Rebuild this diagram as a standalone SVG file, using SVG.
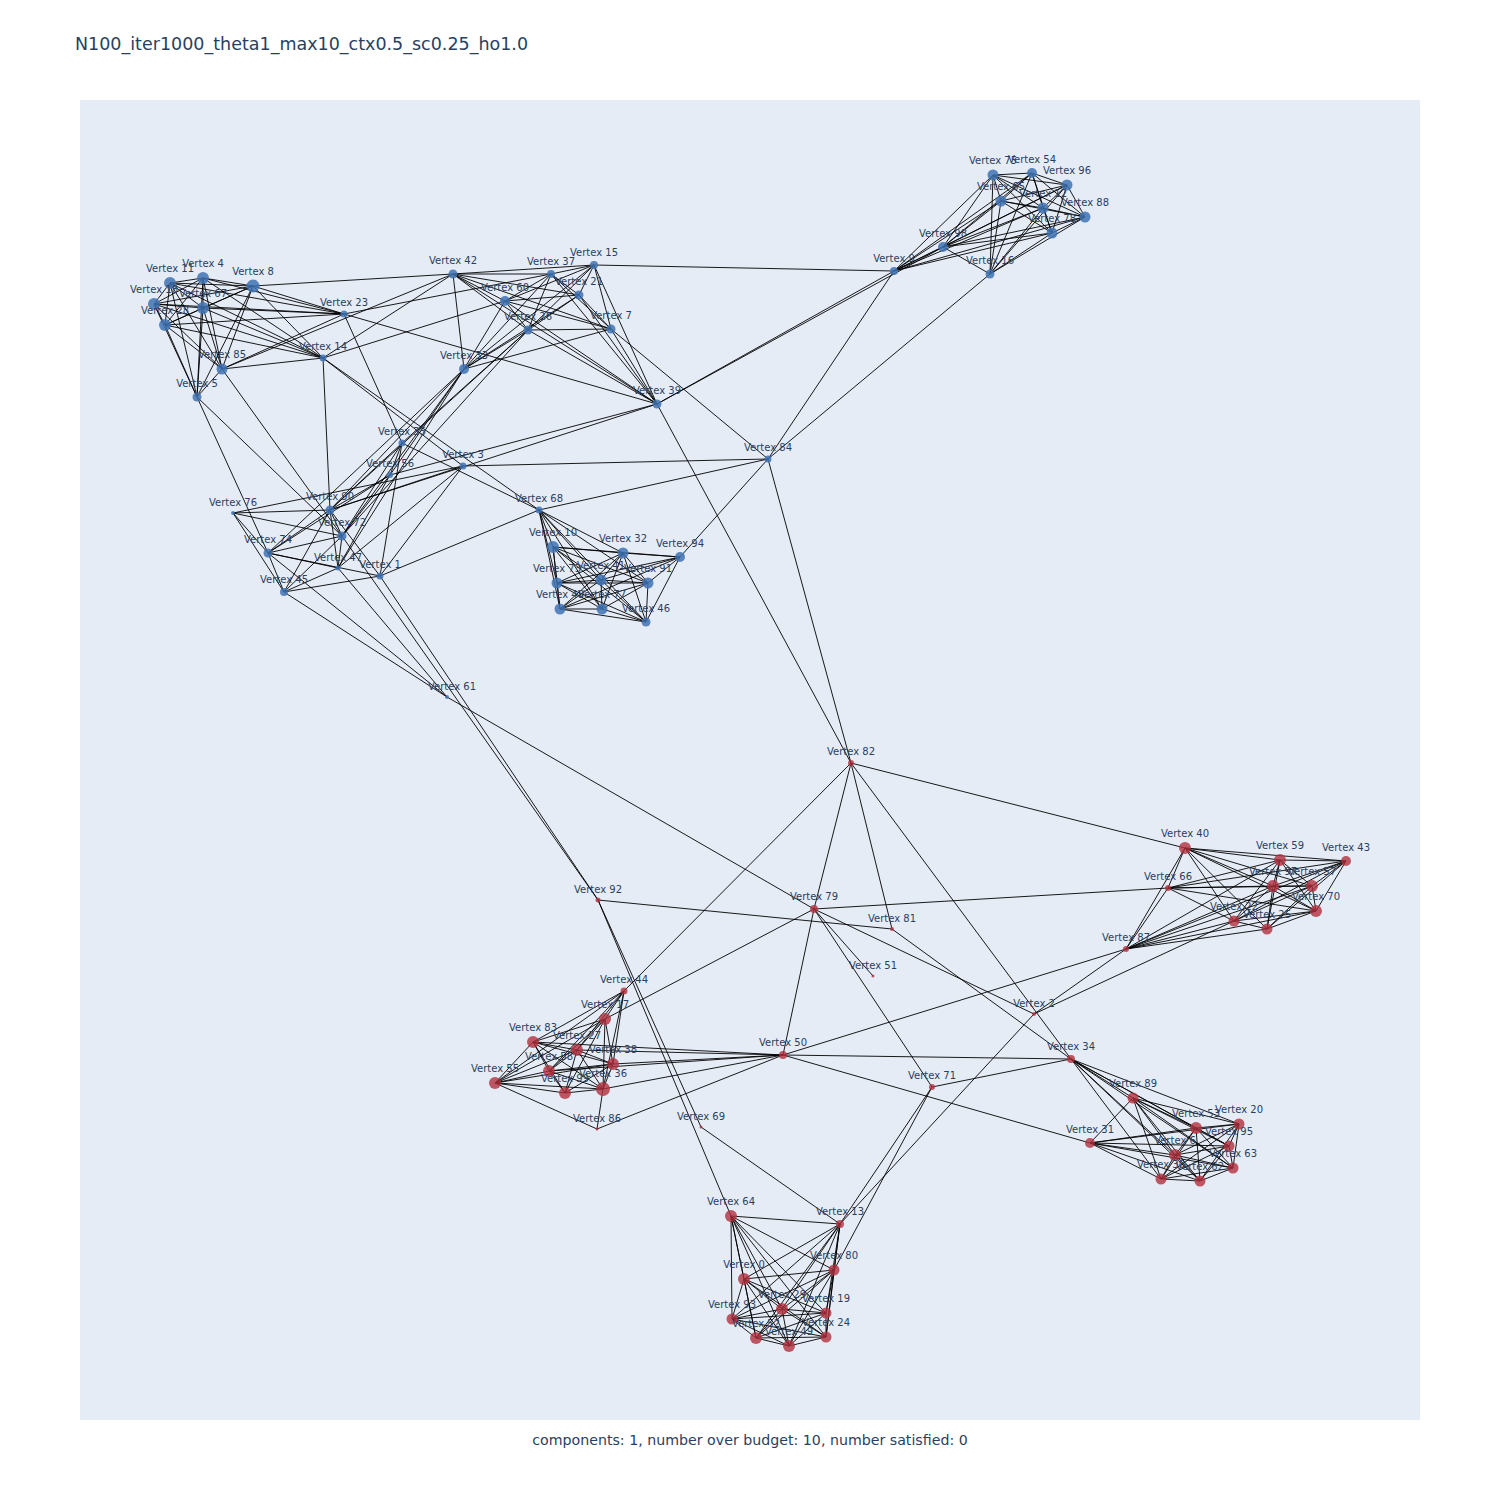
<svg xmlns="http://www.w3.org/2000/svg" width="1500" height="1500" viewBox="0 0 1500 1500">
<style>
.e{fill:none;stroke:#000;stroke-width:0.9}
.b{fill:#3f73b3;fill-opacity:0.85}
.r{fill:#b2313e;fill-opacity:0.8}
text{font-family:"DejaVu Sans","Open Sans",sans-serif;fill:#2a3f5f}
.l{font-size:10px;text-anchor:middle}
</style>
<rect x="0" y="0" width="1500" height="1500" fill="#fff"/>
<rect x="80" y="100" width="1340" height="1320" fill="#E5ECF6"/>
<text x="75" y="50" font-size="17.5">N100_iter1000_theta1_max10_ctx0.5_sc0.25_ho1.0</text>
<text x="750" y="1445" font-size="14.2" text-anchor="middle">components: 1, number over budget: 10, number satisfied: 0</text>
<g id="connectors">
<path class="e" d="M170 283L203 278M170 283L253 286M170 283L154 304M170 283L203 308M170 283L165 325M170 283L222 369M170 283L197 397M203 278L253 286M203 278L154 304M203 278L203 308M203 278L165 325M203 278L222 369M203 278L197 397M253 286L154 304M253 286L203 308M253 286L165 325M253 286L222 369M253 286L197 397M154 304L203 308M154 304L165 325M154 304L222 369M154 304L197 397M203 308L165 325M203 308L222 369M203 308L197 397M165 325L222 369M165 325L197 397M222 369L197 397M344 314L170 283M344 314L203 278M344 314L253 286M344 314L154 304M344 314L203 308M344 314L165 325M344 314L222 369M323 358L170 283M323 358L203 278M323 358L253 286M323 358L154 304M323 358L203 308M323 358L165 325M323 358L222 369M253 286L453 274M222 369L453 274M323 358L453 274M323 358L505 301M323 358L330 510M323 358L539 510M323 358L463 466M344 314L551 274M344 314L402 443M344 314L657 404M197 397L268 553M197 397L342 536M222 369L342 536"/>
<path class="e" d="M453 274L551 274M453 274L594 265M453 274L505 301M453 274L579 295M453 274L528 330M453 274L611 329M453 274L464 369M551 274L594 265M551 274L505 301M551 274L579 295M551 274L528 330M551 274L611 329M551 274L464 369M594 265L505 301M594 265L579 295M594 265L528 330M594 265L611 329M594 265L464 369M505 301L579 295M505 301L528 330M505 301L611 329M505 301L464 369M579 295L528 330M579 295L611 329M579 295L464 369M528 330L611 329M528 330L464 369M611 329L464 369M657 404L453 274M657 404L551 274M657 404L594 265M657 404L505 301M657 404L579 295M657 404L528 330M657 404L611 329M594 265L894 271M657 404L894 271M657 404L943 247M657 404L851 763M657 404L390 475M657 404L330 510M611 329L768 459M464 369L390 475M464 369L330 510M464 369L342 536M464 369L338 568M464 369L268 553M528 330L330 510M528 330L402 443M528 330L342 536"/>
<path class="e" d="M993 175L1032 173M993 175L1067 185M993 175L1001 201M993 175L1043 208M993 175L1085 217M993 175L1052 233M1032 173L1067 185M1032 173L1001 201M1032 173L1043 208M1032 173L1085 217M1032 173L1052 233M1067 185L1001 201M1067 185L1043 208M1067 185L1085 217M1067 185L1052 233M1001 201L1043 208M1001 201L1085 217M1001 201L1052 233M1043 208L1085 217M1043 208L1052 233M1085 217L1052 233M943 247L993 175M943 247L1032 173M943 247L1067 185M943 247L1001 201M943 247L1043 208M943 247L1085 217M943 247L1052 233M943 247L894 271M943 247L990 274M894 271L993 175M894 271L1032 173M894 271L1001 201M894 271L1043 208M894 271L1052 233M894 271L1085 217M894 271L1067 185M990 274L993 175M990 274L1001 201M990 274L1032 173M990 274L1067 185M990 274L1043 208M990 274L1052 233M990 274L1085 217M894 271L768 459M990 274L768 459"/>
<path class="e" d="M233 513L330 510M233 513L342 536M233 513L268 553M233 513L284 592M233 513L463 466M330 510L342 536M330 510L268 553M330 510L338 568M330 510L284 592M330 510L390 475M330 510L402 443M330 510L380 576M330 510L463 466M342 536L268 553M342 536L338 568M342 536L284 592M342 536L390 475M342 536L402 443M268 553L338 568M268 553L380 576M268 553L284 592M268 553L390 475M338 568L284 592M338 568L463 466M338 568L390 475M284 592L380 576M380 576L463 466M380 576L402 443M380 576L539 510M402 443L390 475M402 443L539 510M284 592L447 697M268 553L447 697M338 568L447 697M463 466L768 459M380 576L598 900M342 536L598 900"/>
<path class="e" d="M553 547L623 553M553 547L557 583M553 547L601 580M553 547L648 583M553 547L560 609M553 547L602 609M553 547L646 622M623 553L557 583M623 553L601 580M623 553L648 583M623 553L560 609M623 553L602 609M623 553L646 622M557 583L601 580M557 583L648 583M557 583L560 609M557 583L602 609M557 583L646 622M601 580L648 583M601 580L560 609M601 580L602 609M601 580L646 622M648 583L560 609M648 583L602 609M648 583L646 622M560 609L602 609M560 609L646 622M602 609L646 622M680 557L623 553M680 557L648 583M680 557L646 622M680 557L601 580M680 557L557 583M680 557L553 547M680 557L560 609M539 510L553 547M539 510L557 583M539 510L560 609M539 510L623 553M539 510L601 580M539 510L602 609M539 510L648 583M539 510L646 622M539 510L768 459M680 557L768 459"/>
<path class="e" d="M1185 848L1280 860M1185 848L1346 861M1185 848L1273 886M1185 848L1312 886M1185 848L1316 911M1185 848L1234 921M1185 848L1267 929M1280 860L1346 861M1280 860L1273 886M1280 860L1312 886M1280 860L1316 911M1280 860L1234 921M1280 860L1267 929M1346 861L1273 886M1346 861L1312 886M1346 861L1316 911M1346 861L1234 921M1346 861L1267 929M1273 886L1312 886M1273 886L1316 911M1273 886L1234 921M1273 886L1267 929M1312 886L1316 911M1312 886L1234 921M1312 886L1267 929M1316 911L1234 921M1316 911L1267 929M1234 921L1267 929M1168 888L1185 848M1168 888L1280 860M1168 888L1273 886M1168 888L1312 886M1168 888L1346 861M1168 888L1316 911M1168 888L1234 921M1168 888L1126 949M1126 949L1185 848M1126 949L1280 860M1126 949L1273 886M1126 949L1312 886M1126 949L1316 911M1126 949L1234 921M1126 949L1267 929M1126 949L1346 861M851 763L1185 848M814 909L1168 888M783 1055L1126 949M1034 1014L1126 949M1034 1014L1234 921"/>
<path class="e" d="M605 1019L533 1042M605 1019L577 1050M605 1019L613 1064M605 1019L549 1071M605 1019L495 1083M605 1019L603 1089M605 1019L565 1093M533 1042L577 1050M533 1042L613 1064M533 1042L549 1071M533 1042L495 1083M533 1042L603 1089M533 1042L565 1093M577 1050L613 1064M577 1050L549 1071M577 1050L495 1083M577 1050L603 1089M577 1050L565 1093M613 1064L549 1071M613 1064L495 1083M613 1064L603 1089M613 1064L565 1093M549 1071L495 1083M549 1071L603 1089M549 1071L565 1093M495 1083L603 1089M495 1083L565 1093M603 1089L565 1093M624 991L605 1019M624 991L533 1042M624 991L577 1050M624 991L613 1064M624 991L603 1089M624 991L549 1071M624 991L495 1083M597 1129L495 1083M597 1129L603 1089M597 1129L783 1055M624 991L851 763M605 1019L814 909M783 1055L613 1064M783 1055L603 1089M783 1055L577 1050M783 1055L533 1042M783 1055L549 1071"/>
<path class="e" d="M1133 1098L1239 1124M1133 1098L1196 1128M1133 1098L1090 1143M1133 1098L1229 1146M1133 1098L1175 1155M1133 1098L1233 1168M1133 1098L1161 1179M1133 1098L1200 1181M1239 1124L1196 1128M1239 1124L1090 1143M1239 1124L1229 1146M1239 1124L1175 1155M1239 1124L1233 1168M1239 1124L1161 1179M1239 1124L1200 1181M1196 1128L1090 1143M1196 1128L1229 1146M1196 1128L1175 1155M1196 1128L1233 1168M1196 1128L1161 1179M1196 1128L1200 1181M1090 1143L1229 1146M1090 1143L1175 1155M1090 1143L1233 1168M1090 1143L1161 1179M1090 1143L1200 1181M1229 1146L1175 1155M1229 1146L1233 1168M1229 1146L1161 1179M1229 1146L1200 1181M1175 1155L1233 1168M1175 1155L1161 1179M1175 1155L1200 1181M1233 1168L1161 1179M1233 1168L1200 1181M1161 1179L1200 1181M1071 1059L1133 1098M1071 1059L1239 1124M1071 1059L1196 1128M1071 1059L1229 1146M1071 1059L1175 1155M1071 1059L1233 1168M1071 1059L1161 1179M1071 1059L1200 1181M783 1055L1090 1143"/>
<path class="e" d="M731 1216L840 1224M731 1216L834 1270M731 1216L744 1279M731 1216L782 1309M731 1216L826 1313M731 1216L732 1319M731 1216L826 1337M731 1216L756 1338M731 1216L789 1346M840 1224L834 1270M840 1224L744 1279M840 1224L782 1309M840 1224L826 1313M840 1224L732 1319M840 1224L826 1337M840 1224L756 1338M840 1224L789 1346M834 1270L744 1279M834 1270L782 1309M834 1270L826 1313M834 1270L732 1319M834 1270L826 1337M834 1270L756 1338M834 1270L789 1346M744 1279L782 1309M744 1279L826 1313M744 1279L732 1319M744 1279L826 1337M744 1279L756 1338M744 1279L789 1346M782 1309L826 1313M782 1309L732 1319M782 1309L826 1337M782 1309L756 1338M782 1309L789 1346M826 1313L732 1319M826 1313L826 1337M826 1313L756 1338M826 1313L789 1346M732 1319L826 1337M732 1319L756 1338M732 1319L789 1346M826 1337L756 1338M826 1337L789 1346M756 1338L789 1346M598 900L731 1216M598 900L701 1127M701 1127L840 1224M932 1087L840 1224M932 1087L834 1270M1034 1014L840 1224"/>
<path class="e" d="M851 763L768 459M851 763L814 909M851 763L892 929M851 763L1071 1059M814 909L447 697M814 909L783 1055M814 909L932 1087M814 909L873 976M814 909L1034 1014M598 900L892 929M892 929L1071 1059M783 1055L1071 1059M932 1087L1071 1059"/>
</g>
<g id="nodes">
<g id="v11"><circle class="b" cx="170" cy="283" r="6"/><text class="l" x="170" y="272">Vertex 11</text></g>
<g id="v4"><circle class="b" cx="203" cy="278" r="6"/><text class="l" x="203" y="267">Vertex 4</text></g>
<g id="v8"><circle class="b" cx="253" cy="286" r="6.5"/><text class="l" x="253" y="275">Vertex 8</text></g>
<g id="v18"><circle class="b" cx="154" cy="304" r="6"/><text class="l" x="154" y="293">Vertex 18</text></g>
<g id="v67"><circle class="b" cx="203" cy="308" r="6"/><text class="l" x="203" y="297">Vertex 67</text></g>
<g id="v28"><circle class="b" cx="165" cy="325" r="6"/><text class="l" x="165" y="314">Vertex 28</text></g>
<g id="v85"><circle class="b" cx="222" cy="369" r="5.5"/><text class="l" x="222" y="358">Vertex 85</text></g>
<g id="v5"><circle class="b" cx="197" cy="397" r="4.5"/><text class="l" x="197" y="387">Vertex 5</text></g>
<g id="v23"><circle class="b" cx="344" cy="314" r="3.5"/><text class="l" x="344" y="306">Vertex 23</text></g>
<g id="v14"><circle class="b" cx="323" cy="358" r="3.5"/><text class="l" x="323" y="350">Vertex 14</text></g>
<g id="v42"><circle class="b" cx="453" cy="274" r="4.5"/><text class="l" x="453" y="264">Vertex 42</text></g>
<g id="v37"><circle class="b" cx="551" cy="274" r="4"/><text class="l" x="551" y="265">Vertex 37</text></g>
<g id="v15"><circle class="b" cx="594" cy="265" r="4"/><text class="l" x="594" y="256">Vertex 15</text></g>
<g id="v60"><circle class="b" cx="505" cy="301" r="5"/><text class="l" x="505" y="291">Vertex 60</text></g>
<g id="v21"><circle class="b" cx="579" cy="295" r="4.5"/><text class="l" x="579" y="285">Vertex 21</text></g>
<g id="v26"><circle class="b" cx="528" cy="330" r="4.5"/><text class="l" x="528" y="320">Vertex 26</text></g>
<g id="v7"><circle class="b" cx="611" cy="329" r="4.5"/><text class="l" x="611" y="319">Vertex 7</text></g>
<g id="v33"><circle class="b" cx="464" cy="369" r="5"/><text class="l" x="464" y="359">Vertex 33</text></g>
<g id="v39"><circle class="b" cx="657" cy="404" r="4.5"/><text class="l" x="657" y="394">Vertex 39</text></g>
<g id="v75"><circle class="b" cx="993" cy="175" r="5.5"/><text class="l" x="993" y="164">Vertex 75</text></g>
<g id="v54"><circle class="b" cx="1032" cy="173" r="5"/><text class="l" x="1032" y="163">Vertex 54</text></g>
<g id="v96"><circle class="b" cx="1067" cy="185" r="5.5"/><text class="l" x="1067" y="174">Vertex 96</text></g>
<g id="v65"><circle class="b" cx="1001" cy="201" r="5.5"/><text class="l" x="1001" y="190">Vertex 65</text></g>
<g id="v12"><circle class="b" cx="1043" cy="208" r="5.5"/><text class="l" x="1043" y="197">Vertex 12</text></g>
<g id="v88"><circle class="b" cx="1085" cy="217" r="5.5"/><text class="l" x="1085" y="206">Vertex 88</text></g>
<g id="v78"><circle class="b" cx="1052" cy="233" r="5.5"/><text class="l" x="1052" y="222">Vertex 78</text></g>
<g id="v98"><circle class="b" cx="943" cy="247" r="5"/><text class="l" x="943" y="237">Vertex 98</text></g>
<g id="v9"><circle class="b" cx="894" cy="271" r="4"/><text class="l" x="894" y="262">Vertex 9</text></g>
<g id="v16"><circle class="b" cx="990" cy="274" r="4.5"/><text class="l" x="990" y="264">Vertex 16</text></g>
<g id="v35"><circle class="b" cx="402" cy="443" r="3.5"/><text class="l" x="402" y="435">Vertex 35</text></g>
<g id="v56"><circle class="b" cx="390" cy="475" r="3"/><text class="l" x="390" y="467">Vertex 56</text></g>
<g id="v3"><circle class="b" cx="463" cy="466" r="3.5"/><text class="l" x="463" y="458">Vertex 3</text></g>
<g id="v76"><circle class="b" cx="233" cy="513" r="2"/><text class="l" x="233" y="506">Vertex 76</text></g>
<g id="v90"><circle class="b" cx="330" cy="510" r="4.5"/><text class="l" x="330" y="500">Vertex 90</text></g>
<g id="v72"><circle class="b" cx="342" cy="536" r="4.5"/><text class="l" x="342" y="526">Vertex 72</text></g>
<g id="v74"><circle class="b" cx="268" cy="553" r="4.5"/><text class="l" x="268" y="543">Vertex 74</text></g>
<g id="v47"><circle class="b" cx="338" cy="568" r="2.5"/><text class="l" x="338" y="561">Vertex 47</text></g>
<g id="v1"><circle class="b" cx="380" cy="576" r="3.5"/><text class="l" x="380" y="568">Vertex 1</text></g>
<g id="v45"><circle class="b" cx="284" cy="592" r="4"/><text class="l" x="284" y="583">Vertex 45</text></g>
<g id="v68"><circle class="b" cx="539" cy="510" r="3.5"/><text class="l" x="539" y="502">Vertex 68</text></g>
<g id="v10"><circle class="b" cx="553" cy="547" r="6"/><text class="l" x="553" y="536">Vertex 10</text></g>
<g id="v32"><circle class="b" cx="623" cy="553" r="5.5"/><text class="l" x="623" y="542">Vertex 32</text></g>
<g id="v94"><circle class="b" cx="680" cy="557" r="5"/><text class="l" x="680" y="547">Vertex 94</text></g>
<g id="v73"><circle class="b" cx="557" cy="583" r="5.5"/><text class="l" x="557" y="572">Vertex 73</text></g>
<g id="v41"><circle class="b" cx="601" cy="580" r="5.5"/><text class="l" x="601" y="569">Vertex 41</text></g>
<g id="v91"><circle class="b" cx="648" cy="583" r="5.5"/><text class="l" x="648" y="572">Vertex 91</text></g>
<g id="v48"><circle class="b" cx="560" cy="609" r="5.5"/><text class="l" x="560" y="598">Vertex 48</text></g>
<g id="v77"><circle class="b" cx="602" cy="609" r="5.5"/><text class="l" x="602" y="598">Vertex 77</text></g>
<g id="v46"><circle class="b" cx="646" cy="622" r="4.5"/><text class="l" x="646" y="612">Vertex 46</text></g>
<g id="v84"><circle class="b" cx="768" cy="459" r="3.5"/><text class="l" x="768" y="451">Vertex 84</text></g>
<g id="v61"><circle class="b" cx="447" cy="697" r="2"/><text class="l" x="452" y="690">Vertex 61</text></g>
<g id="v82"><circle class="r" cx="851" cy="763" r="3"/><text class="l" x="851" y="755">Vertex 82</text></g>
<g id="v92"><circle class="r" cx="598" cy="900" r="2.5"/><text class="l" x="598" y="893">Vertex 92</text></g>
<g id="v79"><circle class="r" cx="814" cy="909" r="4"/><text class="l" x="814" y="900">Vertex 79</text></g>
<g id="v81"><circle class="r" cx="892" cy="929" r="2"/><text class="l" x="892" y="922">Vertex 81</text></g>
<g id="v51"><circle class="r" cx="873" cy="976" r="1.5"/><text class="l" x="873" y="969">Vertex 51</text></g>
<g id="v50"><circle class="r" cx="783" cy="1055" r="4"/><text class="l" x="783" y="1046">Vertex 50</text></g>
<g id="v2"><circle class="r" cx="1034" cy="1014" r="2"/><text class="l" x="1034" y="1007">Vertex 2</text></g>
<g id="v34"><circle class="r" cx="1071" cy="1059" r="4"/><text class="l" x="1071" y="1050">Vertex 34</text></g>
<g id="v71"><circle class="r" cx="932" cy="1087" r="3"/><text class="l" x="932" y="1079">Vertex 71</text></g>
<g id="v69"><circle class="r" cx="701" cy="1127" r="1.5"/><text class="l" x="701" y="1120">Vertex 69</text></g>
<g id="v40"><circle class="r" cx="1185" cy="848" r="6"/><text class="l" x="1185" y="837">Vertex 40</text></g>
<g id="v59"><circle class="r" cx="1280" cy="860" r="6"/><text class="l" x="1280" y="849">Vertex 59</text></g>
<g id="v43"><circle class="r" cx="1346" cy="861" r="5"/><text class="l" x="1346" y="851">Vertex 43</text></g>
<g id="v66"><circle class="r" cx="1168" cy="888" r="3"/><text class="l" x="1168" y="880">Vertex 66</text></g>
<g id="v97"><circle class="r" cx="1273" cy="886" r="6"/><text class="l" x="1273" y="875">Vertex 97</text></g>
<g id="v57"><circle class="r" cx="1312" cy="886" r="6"/><text class="l" x="1312" y="875">Vertex 57</text></g>
<g id="v70"><circle class="r" cx="1316" cy="911" r="6"/><text class="l" x="1316" y="900">Vertex 70</text></g>
<g id="v22"><circle class="r" cx="1234" cy="921" r="5.5"/><text class="l" x="1234" y="910">Vertex 22</text></g>
<g id="v25"><circle class="r" cx="1267" cy="929" r="5.5"/><text class="l" x="1267" y="918">Vertex 25</text></g>
<g id="v87"><circle class="r" cx="1126" cy="949" r="3"/><text class="l" x="1126" y="941">Vertex 87</text></g>
<g id="v44"><circle class="r" cx="624" cy="991" r="3.5"/><text class="l" x="624" y="983">Vertex 44</text></g>
<g id="v17"><circle class="r" cx="605" cy="1019" r="6"/><text class="l" x="605" y="1008">Vertex 17</text></g>
<g id="v83"><circle class="r" cx="533" cy="1042" r="6"/><text class="l" x="533" y="1031">Vertex 83</text></g>
<g id="v27"><circle class="r" cx="577" cy="1050" r="6"/><text class="l" x="577" y="1039">Vertex 27</text></g>
<g id="v38"><circle class="r" cx="613" cy="1064" r="6"/><text class="l" x="613" y="1053">Vertex 38</text></g>
<g id="v58"><circle class="r" cx="549" cy="1071" r="6"/><text class="l" x="549" y="1060">Vertex 58</text></g>
<g id="v55"><circle class="r" cx="495" cy="1083" r="6"/><text class="l" x="495" y="1072">Vertex 55</text></g>
<g id="v36"><circle class="r" cx="603" cy="1089" r="7"/><text class="l" x="603" y="1077">Vertex 36</text></g>
<g id="v99"><circle class="r" cx="565" cy="1093" r="6"/><text class="l" x="565" y="1082">Vertex 99</text></g>
<g id="v86"><circle class="r" cx="597" cy="1129" r="1.5"/><text class="l" x="597" y="1122">Vertex 86</text></g>
<g id="v89"><circle class="r" cx="1133" cy="1098" r="5.5"/><text class="l" x="1133" y="1087">Vertex 89</text></g>
<g id="v20"><circle class="r" cx="1239" cy="1124" r="5.5"/><text class="l" x="1239" y="1113">Vertex 20</text></g>
<g id="v53"><circle class="r" cx="1196" cy="1128" r="6"/><text class="l" x="1196" y="1117">Vertex 53</text></g>
<g id="v31"><circle class="r" cx="1090" cy="1143" r="5"/><text class="l" x="1090" y="1133">Vertex 31</text></g>
<g id="v95"><circle class="r" cx="1229" cy="1146" r="5.5"/><text class="l" x="1229" y="1135">Vertex 95</text></g>
<g id="v6"><circle class="r" cx="1175" cy="1155" r="6"/><text class="l" x="1175" y="1144">Vertex 6</text></g>
<g id="v63"><circle class="r" cx="1233" cy="1168" r="5.5"/><text class="l" x="1233" y="1157">Vertex 63</text></g>
<g id="v30"><circle class="r" cx="1161" cy="1179" r="5.5"/><text class="l" x="1161" y="1168">Vertex 30</text></g>
<g id="v62"><circle class="r" cx="1200" cy="1181" r="5.5"/><text class="l" x="1200" y="1170">Vertex 62</text></g>
<g id="v64"><circle class="r" cx="731" cy="1216" r="6"/><text class="l" x="731" y="1205">Vertex 64</text></g>
<g id="v13"><circle class="r" cx="840" cy="1224" r="4"/><text class="l" x="840" y="1215">Vertex 13</text></g>
<g id="v80"><circle class="r" cx="834" cy="1270" r="5.5"/><text class="l" x="834" y="1259">Vertex 80</text></g>
<g id="v0"><circle class="r" cx="744" cy="1279" r="6"/><text class="l" x="744" y="1268">Vertex 0</text></g>
<g id="v29"><circle class="r" cx="782" cy="1309" r="6"/><text class="l" x="782" y="1298">Vertex 29</text></g>
<g id="v19"><circle class="r" cx="826" cy="1313" r="5.5"/><text class="l" x="826" y="1302">Vertex 19</text></g>
<g id="v93"><circle class="r" cx="732" cy="1319" r="5.5"/><text class="l" x="732" y="1308">Vertex 93</text></g>
<g id="v24"><circle class="r" cx="826" cy="1337" r="5.5"/><text class="l" x="826" y="1326">Vertex 24</text></g>
<g id="v52"><circle class="r" cx="756" cy="1338" r="6"/><text class="l" x="756" y="1327">Vertex 52</text></g>
<g id="v49"><circle class="r" cx="789" cy="1346" r="6"/><text class="l" x="789" y="1335">Vertex 49</text></g>
</g>
</svg>
